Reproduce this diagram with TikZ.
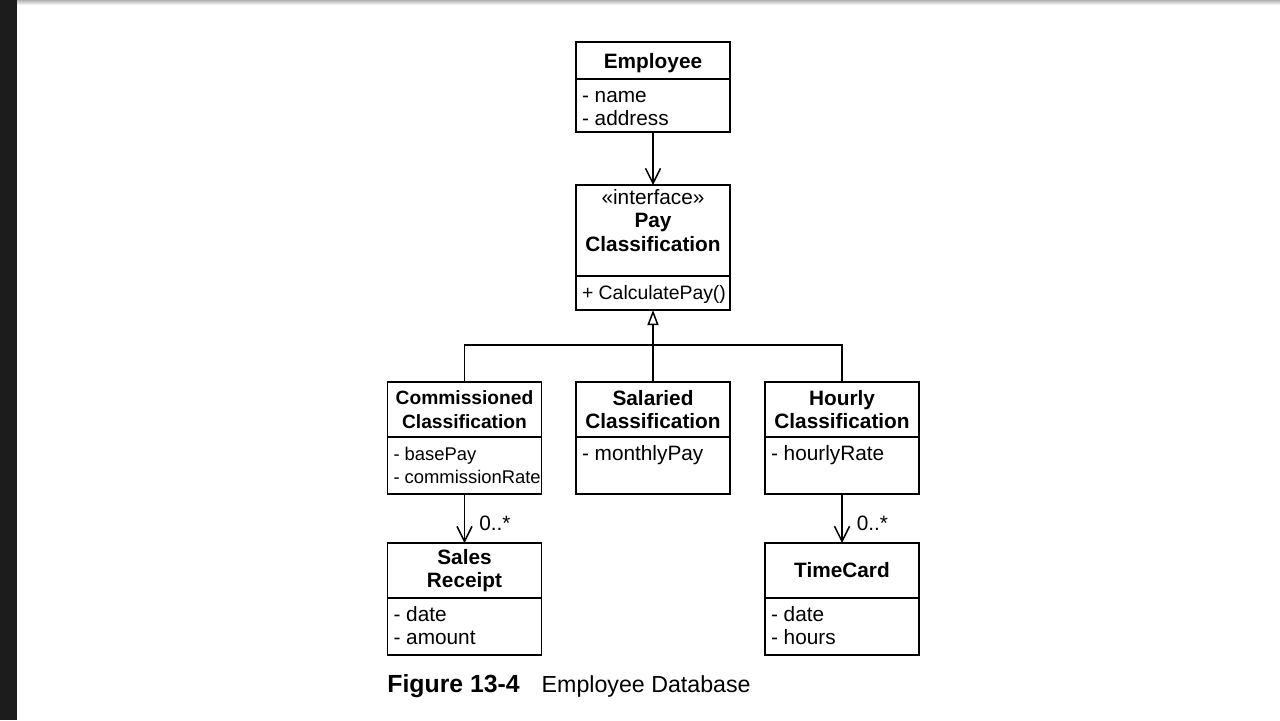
\documentclass[tikz,border=0pt]{standalone}
\usepackage{fontspec}
\setmainfont{Liberation Sans}
\usetikzlibrary{arrows.meta,positioning}

\newcommand{\fields}[2]{\parbox[c][#1][t]{71pt}{\raggedright\vspace*{3.3pt}\strut#2}}

\tikzset{
    box/.style={draw, line width=0.75pt, outer sep=0pt, inner sep=0pt,
        minimum width=77pt, font=\fontsize{10.4}{11.75}\selectfont},
    title/.style={box, align=center,
        font=\fontsize{10.4}{11.75}\selectfont\bfseries},
    assoc/.style={line width=0.75pt, -{Straight Barb[length=7.5pt,width=7.5pt]}},
    inherit/.style={line width=0.75pt, -{Triangle[open,length=7.5pt,width=5.5pt]}},
    mult/.style={font=\fontsize{10.4}{11.75}\selectfont, inner sep=0pt}
}

\begin{document}
\begin{tikzpicture}[x=0.5pt, y=-0.5pt]
    \useasboundingbox (0,0) rectangle (1280,720);
    \fill[white] (0,0) rectangle (1280,720);% page
    \fill[black!89] (0,0) rectangle (17,720);% dark strip
    \shade[top color=black!30, bottom color=white] (17,0) rectangle (1280,5);% top edge
    % Employee
    \node[title, anchor=north, minimum height=18.5pt, text depth=0pt] (employee) at (653,42) {Employee};
    \node[box, below=0pt of employee] (employeeAttr) {\fields{26.5pt}{- name\\- address}};
    % interface
    \node[box, anchor=north] (pay) at (653,185) {\parbox[c][45.5pt][t]{77pt}{\centering\vspace*{1.4pt}\strut«interface»\\\textbf{Pay}\\\textbf{Classification}}};
    \node[box, below=0pt of pay, font=\fontsize{9.7}{11.75}\selectfont] (payOps) {\fields{17pt}{\mbox{+ CalculatePay()}}};
    % classifications
    \node[title, anchor=north, minimum height=27.5pt, font=\fontsize{9.6}{11.75}\selectfont\bfseries] (commissioned) at (464.5,382) {Commissioned\\Classification};
    \node[box, below=0pt of commissioned, font=\fontsize{9.2}{11.75}\selectfont] (commissionedAttr) {\fields{28.5pt}{- basePay\\\mbox{- commissionRate}}};
    \node[title, anchor=north, minimum height=27.5pt] (salaried) at (653,382) {Salaried\\Classification};
    \node[box, below=0pt of salaried] (salariedAttr) {\fields{28.5pt}{- monthlyPay}};
    \node[title, anchor=north, minimum height=27.5pt] (hourly) at (842,382) {Hourly\\Classification};
    \node[box, below=0pt of hourly] (hourlyAttr) {\fields{28.5pt}{- hourlyRate}};
    % associated classes
    \node[title, anchor=north, minimum height=27.5pt] (salesReceipt) at (464.5,543) {Sales\\Receipt};
    \node[box, below=0pt of salesReceipt] (salesReceiptAttr) {\fields{28.5pt}{- date\\- amount}};
    \node[title, anchor=north, minimum height=27.5pt] (timeCard) at (842,543) {TimeCard};
    \node[box, below=0pt of timeCard] (timeCardAttr) {\fields{28.5pt}{- date\\- hours}};
    % connectors
    \draw[assoc] (employeeAttr.south) -- (pay.north);% employee uses classification
    \coordinate (fork) at (653,345);
    \draw[inherit] (fork) -- (payOps.south);% realization
    \draw[line width=0.75pt] (commissioned.north) |- (fork) -| (hourly.north);
    \draw[line width=0.75pt] (fork) -- (salaried.north);
    \draw[assoc] (commissionedAttr.south) -- node[mult, pos=0.6, right=7pt] {0..*} (salesReceipt.north);
    \draw[assoc] (hourlyAttr.south) -- node[mult, pos=0.6, right=7pt] {0..*} (timeCard.north);
    % caption
    \node[anchor=base west, inner sep=0pt, font=\fontsize{11.6}{14}\selectfont] (caption) at (387,692) {{\fontsize{12.4}{14}\selectfont\bfseries Figure 13-4}\hspace{11pt}Employee Database};
\end{tikzpicture}
\end{document}
